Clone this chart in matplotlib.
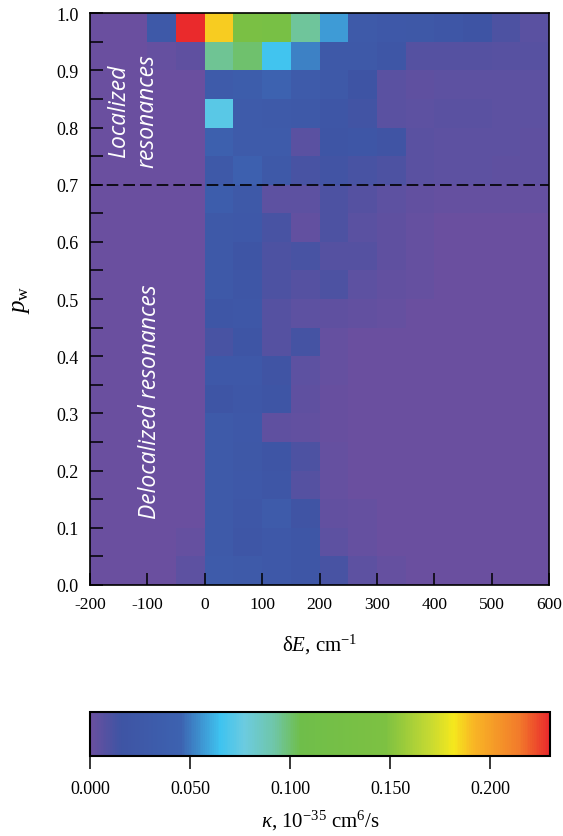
import numpy as np
import matplotlib
matplotlib.use('Agg')
import matplotlib.pyplot as plt
from matplotlib.colors import LinearSegmentedColormap

plt.rcParams['font.family'] = 'Liberation Serif'
plt.rcParams['mathtext.fontset'] = 'custom'
plt.rcParams['mathtext.rm'] = 'Liberation Serif'
plt.rcParams['mathtext.it'] = 'Liberation Serif:italic'
plt.rcParams['axes.unicode_minus'] = False

# bin edges
dE_edges = [-200, -150, -100, -50, 0, 50, 100, 150, 200, 250, 300, 350, 400, 450, 500, 550, 600]
pw_edges = [0.0, 0.05, 0.1, 0.15, 0.2, 0.25, 0.3, 0.35, 0.4, 0.45, 0.5,
            0.55, 0.6, 0.65, 0.7, 0.75, 0.8, 0.85, 0.9, 0.95, 1.0]

# kappa, rows from pw = 0 (bottom) to pw = 1 (top)
kappa = np.array([
    [0, 0, 0, 0.005, 0.030, 0.028, 0.025, 0.020, 0.012, 0.005, 0.002, 0, 0, 0, 0, 0],
    [0, 0, 0, 0.002, 0.027, 0.020, 0.025, 0.020, 0.005, 0.002, 0, 0, 0, 0, 0, 0],
    [0, 0, 0, 0, 0.027, 0.022, 0.030, 0.015, 0.003, 0.002, 0, 0, 0, 0, 0, 0],
    [0, 0, 0, 0, 0.028, 0.025, 0.020, 0.008, 0.002, 0, 0, 0, 0, 0, 0, 0],
    [0, 0, 0, 0, 0.028, 0.024, 0.018, 0.010, 0.002, 0, 0, 0, 0, 0, 0, 0],
    [0, 0, 0, 0, 0.028, 0.025, 0.004, 0.003, 0.001, 0, 0, 0, 0, 0, 0, 0],
    [0, 0, 0, 0, 0.018, 0.022, 0.018, 0.004, 0.001, 0, 0, 0, 0, 0, 0, 0],
    [0, 0, 0, 0, 0.025, 0.025, 0.015, 0.005, 0.002, 0, 0, 0, 0, 0, 0, 0],
    [0, 0, 0, 0, 0.012, 0.018, 0.008, 0.013, 0.002, 0, 0, 0, 0, 0, 0, 0],
    [0, 0, 0, 0, 0.020, 0.022, 0.008, 0.005, 0.004, 0.003, 0.002, 0, 0, 0, 0, 0],
    [0, 0, 0, 0, 0.026, 0.020, 0.010, 0.008, 0.010, 0.005, 0.003, 0.002, 0, 0, 0, 0],
    [0, 0, 0, 0, 0.026, 0.018, 0.010, 0.012, 0.008, 0.008, 0.004, 0.002, 0, 0, 0, 0],
    [0, 0, 0, 0, 0.026, 0.025, 0.012, 0.003, 0.010, 0.006, 0.004, 0.002, 0, 0, 0, 0],
    [0, 0, 0, 0, 0.035, 0.026, 0.005, 0.005, 0.010, 0.008, 0.005, 0.003, 0.002, 0.002, 0.002, 0.002],
    [0, 0, 0, 0, 0.026, 0.042, 0.026, 0.012, 0.014, 0.012, 0.010, 0.006, 0.005, 0.005, 0.004, 0.004],
    [0, 0, 0, 0, 0.040, 0.030, 0.030, 0.006, 0.018, 0.020, 0.015, 0.006, 0.005, 0.005, 0.005, 0.004],
    [0, 0, 0, 0, 0.072, 0.030, 0.028, 0.026, 0.020, 0.014, 0.006, 0.005, 0.006, 0.006, 0.005, 0.005],
    [0, 0, 0, 0, 0.030, 0.034, 0.045, 0.030, 0.026, 0.016, 0.006, 0.004, 0.005, 0.005, 0.005, 0.005],
    [0, 0, 0.002, 0.004, 0.095, 0.100, 0.066, 0.052, 0.026, 0.026, 0.020, 0.008, 0.008, 0.008, 0.007, 0.007],
    [0, 0, 0.026, 0.230, 0.187, 0.140, 0.132, 0.094, 0.057, 0.028, 0.025, 0.024, 0.020, 0.016, 0.010, 0.006],
])

vmax = 0.23
cstops = [0.0, 0.015, 0.045, 0.065, 0.077, 0.092, 0.105, 0.148, 0.17, 0.182, 0.192, 0.215, 0.23]
ccolors = ['#6a4f9f', '#3e54a4', '#3d62b0', '#3ec3f0', '#6ccbe0', '#6fc6a8', '#6fbe4a',
           '#7dc142', '#c5d932', '#f5e81d', '#f8b625', '#f27a2b', '#ea2a2c']
cmap = LinearSegmentedColormap.from_list('kappa', list(zip(np.array(cstops) / vmax, ccolors)))

fig = plt.figure(figsize=(5.63, 8.37), dpi=100)
ax = fig.add_axes([0.160, 0.300, 0.815, 0.683])
mesh = ax.pcolormesh(dE_edges, pw_edges, kappa, cmap=cmap, vmin=0, vmax=vmax)

ax.axhline(0.7, color='black', linestyle=(0, (7, 3)), linewidth=1.2)

ax.set_xlim(-200, 600)
ax.set_ylim(0, 1.0)
ax.set_xticks([-200, -100, 0, 100, 200, 300, 400, 500, 600])
ax.set_yticks(np.arange(0, 1.01, 0.1))
ax.set_yticks(np.arange(0.05, 1.0, 0.1), minor=True)
ax.set_yticklabels(['%.1f' % v for v in np.arange(0, 1.01, 0.1)])
ax.tick_params(axis='both', which='both', direction='in', length=9, width=1.1,
               top=False, right=False)
ax.tick_params(axis='x', labelsize=12.5, pad=8)
ax.tick_params(axis='y', labelsize=13, pad=8)
for s in ax.spines.values():
    s.set_linewidth(1.2)

ax.set_xlabel(r'δ$E$, cm$^{-1}$', fontsize=15, labelpad=14)
ax.set_ylabel(r'$p_\mathrm{w}$', fontsize=18, labelpad=18)

txt = dict(color='white', rotation=90, fontsize=16.5, style='italic', family='Open Sans',
           ha='center', va='center')
ax.text(-125, 0.83, 'Localized\nresonances', multialignment='center', linespacing=1.25, **txt)
ax.text(-95, 0.323, 'Delocalized resonances', **txt)

cax = fig.add_axes([0.160, 0.0956, 0.817, 0.0526])
cb = fig.colorbar(mesh, cax=cax, orientation='horizontal', ticks=[0, 0.05, 0.1, 0.15, 0.2])
cb.ax.set_xticklabels(['0.000', '0.050', '0.100', '0.150', '0.200'])
cb.ax.tick_params(labelsize=13, length=9, width=1.1, pad=8)
cb.outline.set_linewidth(1.5)
cb.set_label(r'$\kappa$, 10$^{-35}$ cm$^{6}$/s', fontsize=15, labelpad=8)

fig.savefig('out.png', dpi=100)
